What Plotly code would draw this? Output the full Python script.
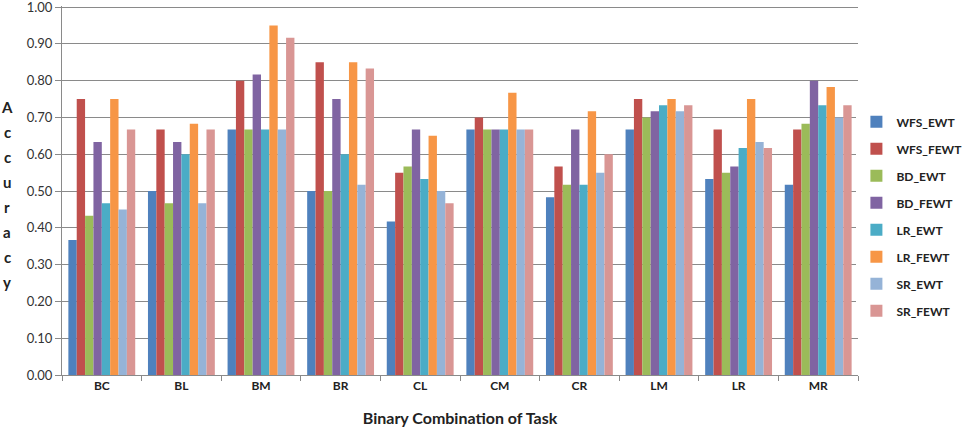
import plotly.graph_objects as go

categories = ["BC", "BL", "BM", "BR", "CL", "CM", "CR", "LM", "LR", "MR"]
series_names = ["WFS_EWT", "WFS_FEWT", "BD_EWT", "BD_FEWT", "LR_EWT", "LR_FEWT", "SR_EWT", "SR_FEWT"]

wfs_ewt  = [0.367, 0.500, 0.667, 0.500, 0.417, 0.667, 0.483, 0.667, 0.533, 0.517]
wfs_fewt = [0.750, 0.667, 0.800, 0.850, 0.550, 0.700, 0.567, 0.750, 0.667, 0.667]
bd_ewt   = [0.433, 0.467, 0.667, 0.500, 0.567, 0.667, 0.517, 0.700, 0.550, 0.683]
bd_fewt  = [0.633, 0.633, 0.817, 0.750, 0.667, 0.667, 0.667, 0.717, 0.567, 0.800]
lr_ewt   = [0.467, 0.600, 0.667, 0.600, 0.533, 0.667, 0.517, 0.733, 0.617, 0.733]
lr_fewt  = [0.750, 0.683, 0.950, 0.850, 0.650, 0.767, 0.717, 0.750, 0.750, 0.783]
sr_ewt   = [0.450, 0.467, 0.667, 0.517, 0.500, 0.667, 0.550, 0.717, 0.633, 0.700]
sr_fewt  = [0.667, 0.667, 0.917, 0.833, 0.467, 0.667, 0.600, 0.733, 0.617, 0.733]

y_ticks = [0.0, 0.1, 0.2, 0.3, 0.4, 0.5, 0.6, 0.7, 0.8, 0.9, 1.0]
y_title_letters = list("Accuracy")

series_values = [wfs_ewt, wfs_fewt, bd_ewt, bd_fewt, lr_ewt, lr_fewt, sr_ewt, sr_fewt]
colors = ["#4F81BD", "#C0504D", "#9BBB59", "#8064A2", "#4BACC6", "#F79646", "#95B3D7", "#D99694"]

FONT = "Lato, 'Open Sans', sans-serif"

fig = go.Figure()
for name, vals, col in zip(series_names, series_values, colors):
    fig.add_trace(go.Bar(name=name, x=categories, y=vals, marker_color=col,
                         marker_line_width=0, legendgroup=name))

fig.update_layout(
    width=967, height=430,
    margin=dict(l=62, r=109, t=6, b=55, autoexpand=False),
    paper_bgcolor="white", plot_bgcolor="white",
    barmode="group", bargap=0.16, bargroupgap=0,
    font=dict(family=FONT, color="#222222"),
    legend=dict(x=0.998, xanchor="left", y=0.43, yanchor="middle",
                font=dict(size=12, family=FONT, color="#222222", weight="bold"),
                itemwidth=30, tracegroupgap=8, itemclick=False),
    xaxis=dict(
        automargin=False,
        showline=True, linecolor="#8a8a8a", linewidth=1,
        ticks="outside", tickson="boundaries", ticklen=5, tickcolor="#8a8a8a",
        tickfont=dict(size=12, family=FONT, color="#222222", weight="bold"),
        title=dict(text="<b>Binary Combination of Task</b>", font=dict(size=16, family=FONT, color="#222222"),
                   standoff=20),
        showgrid=False,
    ),
    yaxis=dict(
        automargin=False, ticklabeloverflow="allow",
        range=[0, 1.003], tickvals=y_ticks, ticktext=[f"{v:.2f}" for v in y_ticks],
        showline=True, linecolor="#8a8a8a", linewidth=1,
        ticks="outside", ticklen=6, tickcolor="#8a8a8a",
        showgrid=True, gridcolor="#8a8a8a", gridwidth=1,
        tickfont=dict(size=13, family=FONT, color="#333333"),
        zeroline=False,
    ),
)

# vertical stacked y-axis title
for i, ch in enumerate(y_title_letters):
    fig.add_annotation(text=f"<b>{ch}</b>", xref="paper", yref="paper",
                       x=-55 / 796, xanchor="center",
                       y=(375 - 107 - i * 25.0) / 369, yanchor="middle",
                       showarrow=False, font=dict(size=15, family=FONT, color="#222222"))

fig.write_html("out.html")
